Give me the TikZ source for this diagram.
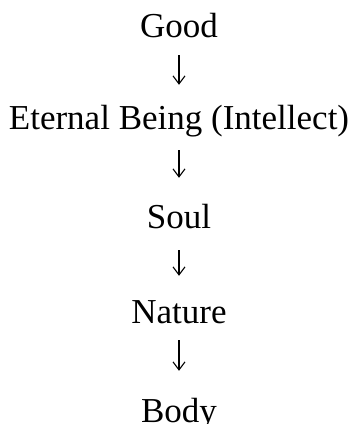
\documentclass[tikz,border=0pt]{standalone}
\usepackage{fontspec}
\setmainfont{Liberation Serif}
\usetikzlibrary{arrows.meta}
\begin{document}
\begin{tikzpicture}[x=1pt,y=-1pt,
  lbl/.style={anchor=base,inner sep=0pt,text height=23pt,text depth=0pt,
    font=\fontsize{35}{41}\selectfont},
  arr/.style={line width=1.1pt,-{Straight Barb[length=8pt,width=12pt,line width=1.1pt]}}]
\useasboundingbox (0,0) rectangle (351,424);
\node[lbl] (good) at (179,37) {Good};
\node[lbl] (being) at (179,129) {Eternal Being (Intellect)};
\node[lbl] (soul) at (179,228) {Soul};
\node[lbl] (nature) at (179,323) {Nature};
\node[lbl] (body) at (179,422) {Body};
\draw[arr,shorten <=18pt,shorten >=21pt] (good) -- (being);
\draw[arr,shorten <=21pt,shorten >=27pt] (being) -- (soul);
\draw[arr,shorten <=22pt,shorten >=24pt] (soul) -- (nature);
\draw[arr,shorten <=17pt,shorten >=28pt] (nature) -- (body);
\end{tikzpicture}
\end{document}
